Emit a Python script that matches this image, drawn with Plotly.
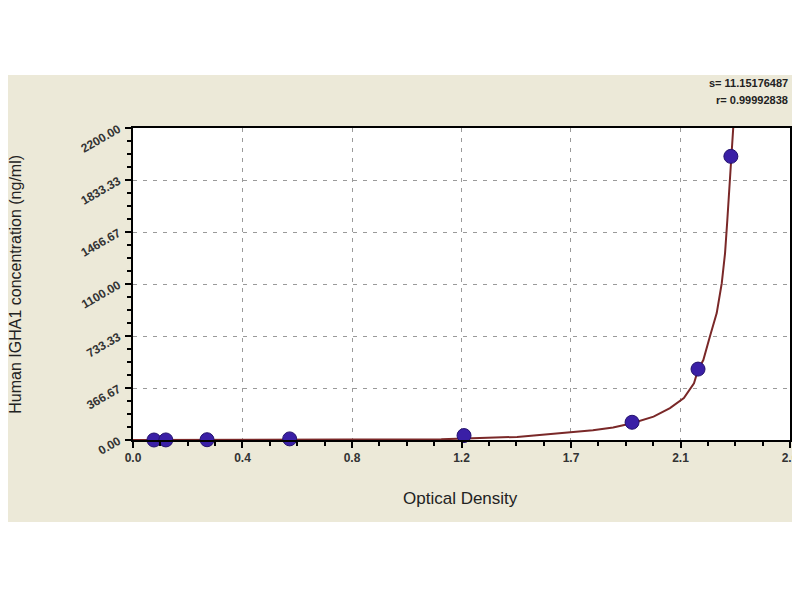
import plotly.graph_objects as go

# standard points (OD vs concentration)
od_points = [0.083, 0.13, 0.293, 0.62, 1.31, 1.975, 2.236, 2.366]
conc_points = [0, 0.49, 1.95, 7.81, 31.25, 125, 500, 2000]

# fitted curve
curve_od = [0.0, 0.6, 1.0, 1.22, 1.52, 1.61, 1.73, 1.82, 1.90, 1.975, 2.06, 2.125,
            2.18, 2.22, 2.236, 2.257, 2.283, 2.31, 2.33, 2.343, 2.352, 2.362, 2.368, 2.376]
curve_conc = [0, 0, 0, 5, 22, 35, 52, 68, 88, 118, 165, 225,
              295, 400, 494, 564, 730, 895, 1106, 1318, 1551, 1810, 1998, 2220]

x_ticks = [0, 0.4333, 0.8667, 1.3, 1.7333, 2.1667, 2.6]
x_labels = ["0.0", "0.4", "0.8", "1.2", "1.7", "2.1", "2.6"]
y_ticks = [0, 366.67, 733.33, 1100, 1466.67, 1833.33, 2200]
y_labels = ["0.00", "366.67", "733.33", "1100.00", "1466.67", "1833.33", "2200.00"]

fit_s = "s= 11.15176487"
fit_r = "r= 0.99992838"

FONT = "Arial, Liberation Sans, sans-serif"
BEIGE = "#ECE9D8"

x_minor = [x_ticks[i] + (x_ticks[i + 1] - x_ticks[i]) * k / 4
           for i in range(len(x_ticks) - 1) for k in (1, 2, 3)]
y_minor = [y_ticks[i] + (y_ticks[i + 1] - y_ticks[i]) * k / 4
           for i in range(len(y_ticks) - 1) for k in (1, 2, 3)]

fig = go.Figure()
fig.add_trace(go.Scatter(x=curve_od, y=curve_conc, mode='lines',
                         line=dict(color='#7A2828', width=2), hoverinfo='skip'))
fig.add_trace(go.Scatter(x=od_points, y=conc_points, mode='markers', cliponaxis=False,
                         marker=dict(color='#3A1FA6', size=14, symbol='circle',
                                     line=dict(color='#24126E', width=1))))

# beige panel behind the chart, white plot area on top of it
fig.add_shape(type='rect', xref='paper', yref='paper', x0=-0.22, x1=1.03, y0=-0.263, y1=1.17,
              fillcolor=BEIGE, line=dict(width=0), layer='below')
fig.add_shape(type='rect', xref='paper', yref='paper', x0=0, x1=1, y0=0, y1=1,
              fillcolor='white', line=dict(width=0), layer='below')

fig.add_annotation(text=fit_s, xref='paper', yref='paper', x=1.0, y=1.145, xanchor='right',
                   yanchor='middle', showarrow=False,
                   font=dict(family=FONT, size=11, color='#222222', weight='bold'))
fig.add_annotation(text=fit_r, xref='paper', yref='paper', x=1.0, y=1.09, xanchor='right',
                   yanchor='middle', showarrow=False,
                   font=dict(family=FONT, size=11, color='#222222', weight='bold'))
fig.add_annotation(text="Optical Density", xref='paper', yref='paper', x=0.498, y=-0.186,
                   xanchor='center', yanchor='middle', showarrow=False,
                   font=dict(family=FONT, size=17, color='#222222'))
fig.add_annotation(text="Human IGHA1 concentration (ng/ml)", xref='paper', yref='paper',
                   x=-0.18, y=0.5, xanchor='center', yanchor='middle', textangle=-90,
                   showarrow=False, font=dict(family=FONT, size=16, color='#222222'))

axis_common = dict(showline=True, linecolor='black', linewidth=2, mirror=True,
                   ticks='outside', ticklen=6, tickwidth=2, tickcolor='black',
                   showgrid=True, gridcolor='#9a9a9a', gridwidth=1, griddash='4px,6px',
                   zeroline=False, tickmode='array', automargin=False,
                   tickfont=dict(family=FONT, size=12, color='#333333', weight='bold'))

# page body adds an 8px offset, so the figure is 8px smaller
fig.update_layout(
    width=792, height=592,
    margin=dict(l=125, r=10, t=120, b=160),
    paper_bgcolor='white', plot_bgcolor='rgba(0,0,0,0)',
    showlegend=False,
    xaxis=dict(axis_common, range=[0, 2.6], tickvals=x_ticks, ticktext=x_labels,
               minor=dict(tickmode='array', tickvals=x_minor, ticklen=4, tickwidth=2,
                          tickcolor='black', ticks='outside', showgrid=False)),
    yaxis=dict(axis_common, range=[0, 2200], tickvals=y_ticks, ticktext=y_labels,
               tickangle=-30, ticklabelstandoff=4,
               minor=dict(tickmode='array', tickvals=y_minor, ticklen=4, tickwidth=2,
                          tickcolor='black', ticks='outside', showgrid=False)),
)

fig.write_html("out.html")
